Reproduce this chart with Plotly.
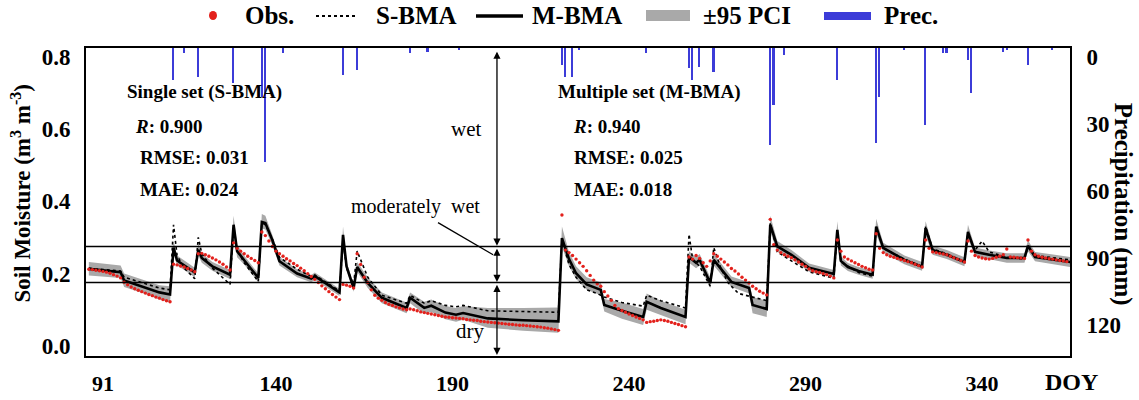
import plotly.graph_objects as go

# ---------------- data ----------------
OBS_DOY_START = 87
OBS_SM = [
    0.212, 0.211, 0.209, 0.208, 0.206, 0.204, 0.201, 0.197, 0.193, 0.188,
    0.176, 0.169, 0.163, 0.158, 0.154, 0.150, 0.146, 0.142, 0.139, 0.135, 0.132, 0.128, 0.125, 0.122,
    0.226, 0.224, 0.221, 0.218, 0.214, 0.210, 0.205,
    0.255, 0.256, 0.252, 0.248, 0.243, 0.238, 0.232, 0.226, 0.218, 0.210,
    0.285, 0.270, 0.262, 0.255, 0.248, 0.242, 0.236, 0.230,
    0.315, 0.305, 0.290, 0.275, 0.262, 0.255, 0.248, 0.241, 0.235, 0.228, 0.222, 0.215,
    0.208, 0.200, 0.192, 0.184, 0.175, 0.166, 0.158, 0.150, 0.142, 0.135, 0.128,
    0.170, 0.168, 0.165, 0.160,
    0.255, 0.225, 0.190, 0.175, 0.155, 0.140, 0.132, 0.126, 0.120, 0.115, 0.112, 0.108, 0.105, 0.102, 0.100,
    0.102, 0.100, 0.097, 0.094, 0.092, 0.090, 0.088, 0.086, 0.084, 0.082, 0.080, 0.079, 0.078, 0.077, 0.076, 0.075, 0.073,
    0.072, 0.071, 0.070, 0.068, 0.067, 0.066,
    0.065, 0.064, 0.063, 0.062, 0.061, 0.060, 0.059, 0.058, 0.057, 0.057,
    0.056, 0.055, 0.054, 0.053, 0.052, 0.050, 0.049, 0.047, 0.045, 0.043,
    0.362, 0.265, 0.258, 0.250, 0.240, 0.230, 0.220, 0.208, 0.195, 0.182, 0.172, 0.165, 0.150, 0.138, 0.126, 0.112,
    0.103, 0.098, 0.093, 0.088, 0.084, 0.080, 0.076, 0.072, 0.065, 0.067, 0.068, 0.070, 0.072, 0.070, 0.068, 0.065,
    0.062, 0.059, 0.056, 0.053,
    0.246, 0.240, 0.250, 0.242, 0.230, 0.220, 0.235, 0.255, 0.248, 0.240, 0.232, 0.224, 0.214, 0.207, 0.199, 0.190,
    0.182, 0.174, 0.165, 0.158, 0.151, 0.146, 0.141,
    0.350, 0.280, 0.265, 0.258, 0.252, 0.248, 0.244, 0.238, 0.232, 0.226, 0.220, 0.213, 0.208, 0.205, 0.203, 0.200,
    0.197, 0.193, 0.188,
    0.293, 0.262, 0.246, 0.240, 0.235, 0.230, 0.225, 0.220, 0.216, 0.212, 0.210,
    0.310, 0.270, 0.258, 0.252, 0.248, 0.245, 0.242, 0.239, 0.236, 0.233, 0.230, 0.226, 0.222, 0.218,
    0.293, 0.270, 0.260, 0.258, 0.256, 0.254, 0.252, 0.248, 0.244, 0.240, 0.236, 0.232,
    0.290, 0.262, 0.250, 0.246, 0.243, 0.241, 0.240, 0.242, 0.245, 0.248, 0.252, 0.268, 0.246, 0.245, 0.244, 0.243, 0.242,
    0.293, 0.262, 0.252, 0.248, 0.245, 0.243, 0.241, 0.240, 0.238, 0.236, 0.235, 0.233,
]
OBS_DOY = list(range(OBS_DOY_START, OBS_DOY_START + len(OBS_SM)))

M_DOY = [87, 96, 97, 102, 107, 110, 111, 112, 114, 117, 118, 119, 122, 127, 128, 129, 131, 135, 136, 137,
         139, 141, 146, 150, 151, 158, 159, 160, 162, 163, 166, 170, 177, 178, 182, 184, 188, 191, 193, 200,
         210, 220, 221, 223, 225, 228, 232, 233, 238, 244, 245, 249, 256, 257, 259, 260, 263, 264, 269, 274,
         275, 279, 280, 282, 286, 291, 298, 299, 300, 302, 305, 309, 310, 312, 318, 323, 324, 326, 330, 335,
         336, 338, 342, 347, 352, 353, 355, 365]
M_SM = [0.213, 0.204, 0.181, 0.165, 0.148, 0.142, 0.272, 0.236, 0.222, 0.203, 0.266, 0.243, 0.220, 0.197, 0.335, 0.262, 0.237, 0.188, 0.343, 0.340,
        0.292, 0.234, 0.200, 0.186, 0.193, 0.148, 0.307, 0.220, 0.160, 0.218, 0.174, 0.133, 0.105, 0.133, 0.105, 0.111, 0.092, 0.086, 0.091, 0.076,
        0.071, 0.068, 0.298, 0.240, 0.201, 0.170, 0.155, 0.113, 0.097, 0.080, 0.122, 0.105, 0.080, 0.246, 0.230, 0.238, 0.174, 0.238, 0.177, 0.160,
        0.113, 0.102, 0.335, 0.275, 0.252, 0.216, 0.199, 0.321, 0.235, 0.218, 0.207, 0.197, 0.330, 0.271, 0.238, 0.219, 0.326, 0.265, 0.252, 0.232,
        0.315, 0.260, 0.252, 0.243, 0.243, 0.277, 0.246, 0.232]
PCI_LO = [0.195, 0.188, 0.163, 0.147, 0.128, 0.120, 0.255, 0.222, 0.210, 0.190, 0.250, 0.230, 0.208, 0.185, 0.315, 0.245, 0.225, 0.176, 0.325, 0.322,
          0.278, 0.222, 0.190, 0.176, 0.183, 0.138, 0.290, 0.208, 0.150, 0.205, 0.160, 0.118, 0.090, 0.118, 0.088, 0.094, 0.074, 0.067, 0.072, 0.050,
          0.042, 0.036, 0.275, 0.220, 0.185, 0.155, 0.140, 0.095, 0.075, 0.058, 0.100, 0.085, 0.060, 0.230, 0.215, 0.222, 0.160, 0.222, 0.163, 0.145,
          0.090, 0.080, 0.315, 0.260, 0.240, 0.205, 0.190, 0.300, 0.222, 0.207, 0.197, 0.186, 0.310, 0.258, 0.226, 0.208, 0.305, 0.252, 0.240, 0.220,
          0.298, 0.248, 0.240, 0.230, 0.230, 0.262, 0.234, 0.218]
PCI_HI = [0.232, 0.222, 0.200, 0.185, 0.168, 0.165, 0.290, 0.250, 0.236, 0.216, 0.282, 0.256, 0.232, 0.210, 0.360, 0.280, 0.250, 0.200, 0.365, 0.360,
          0.306, 0.246, 0.212, 0.196, 0.203, 0.158, 0.330, 0.232, 0.172, 0.232, 0.190, 0.148, 0.120, 0.148, 0.122, 0.128, 0.110, 0.105, 0.110, 0.105,
          0.105, 0.106, 0.330, 0.260, 0.220, 0.190, 0.175, 0.130, 0.120, 0.102, 0.145, 0.125, 0.100, 0.262, 0.245, 0.254, 0.190, 0.254, 0.192, 0.176,
          0.135, 0.125, 0.360, 0.290, 0.265, 0.228, 0.210, 0.345, 0.248, 0.229, 0.218, 0.208, 0.352, 0.285, 0.250, 0.232, 0.345, 0.278, 0.265, 0.245,
          0.335, 0.272, 0.264, 0.256, 0.256, 0.292, 0.260, 0.246]

S_DOY = [87, 96, 97, 102, 107, 110, 111, 112, 114, 117, 118, 119, 122, 127, 128, 129, 131, 135, 136, 137,
         139, 141, 146, 150, 151, 158, 159, 160, 162, 163, 166, 170, 177, 178, 182, 184, 188, 191, 193, 200,
         210, 220, 221, 223, 225, 228, 231, 233, 238, 244, 245, 249, 256, 257, 258, 260, 263, 264, 266, 268,
         271, 279, 280, 282, 286, 291, 298, 299, 300, 305, 309, 310, 312, 318, 323, 324, 326, 330, 335, 336,
         338, 340, 342, 347, 352, 353, 355, 365]
S_SM = [0.215, 0.207, 0.190, 0.176, 0.160, 0.155, 0.335, 0.250, 0.215, 0.186, 0.300, 0.255, 0.215, 0.170, 0.330, 0.265, 0.230, 0.178, 0.340, 0.335,
        0.295, 0.245, 0.212, 0.192, 0.196, 0.152, 0.290, 0.215, 0.170, 0.262, 0.190, 0.140, 0.118, 0.140, 0.118, 0.125, 0.112, 0.108, 0.112, 0.097,
        0.095, 0.093, 0.295, 0.225, 0.190, 0.155, 0.145, 0.135, 0.120, 0.110, 0.140, 0.125, 0.105, 0.309, 0.240, 0.220, 0.165, 0.272, 0.215, 0.175,
        0.145, 0.125, 0.340, 0.260, 0.235, 0.205, 0.187, 0.315, 0.232, 0.203, 0.193, 0.330, 0.270, 0.240, 0.220, 0.330, 0.268, 0.255, 0.233, 0.310,
        0.265, 0.290, 0.260, 0.245, 0.240, 0.275, 0.250, 0.238]

PREC_DOY = [111, 114, 118, 128, 136, 137, 142, 159, 163, 178, 183, 192, 221, 222, 224, 226, 245, 257, 258, 260,
            264, 280, 281, 284, 299, 310, 311, 318, 324, 329, 330, 336, 337, 346, 347, 353, 360]
PREC_MM = [14.3, 2.1, 13.1, 15.8, 21.8, 50.9, 2.4, 12.1, 9.9, 2.4, 1.6, 1.0, 7.6, 12.8, 12.8, 0.9, 2.4, 9.1, 14.3, 8.4,
           10.6, 43.4, 25.5, 3.1, 14.3, 42.7, 21.8, 0.9, 34.5, 2.4, 2.4, 5.4, 20.3, 1.6, 1.0, 7.6, 1.0]

X_TICKS = [91, 140, 190, 240, 290, 340]
Y_TICKS = [0.0, 0.2, 0.4, 0.6, 0.8]
Y2_TICKS = [0, 30, 60, 90, 120]
WET_LIMIT = 0.275
DRY_LIMIT = 0.175
CLASS_X = 202.6

X_RANGE = [86.2, 364.9]
Y_RANGE = [-0.028, 0.824]
Y2_RANGE = [133.9, -4.03]

FONT = "Liberation Serif"
OBS_COLOR = "#e3211c"
PCI_COLOR = "#a9a9a9"
PREC_COLOR = "#3c3cd8"

fig = go.Figure()

fig.add_trace(go.Scatter(x=M_DOY, y=PCI_LO, mode="lines", line=dict(width=0, color=PCI_COLOR),
                         showlegend=False, hoverinfo="skip"))
fig.add_trace(go.Scatter(x=M_DOY, y=PCI_HI, mode="lines", line=dict(width=0, color=PCI_COLOR),
                         fill="tonexty", fillcolor=PCI_COLOR, name="±95 PCI", showlegend=False))
fig.add_trace(go.Scatter(x=S_DOY, y=S_SM, mode="lines", line=dict(color="black", width=1.6, dash="dot"),
                         name="S-BMA", showlegend=False))
fig.add_trace(go.Scatter(x=M_DOY, y=M_SM, mode="lines", line=dict(color="black", width=2.6),
                         name="M-BMA", showlegend=False))
fig.add_trace(go.Scatter(x=OBS_DOY, y=OBS_SM, mode="markers", marker=dict(color=OBS_COLOR, size=3.4),
                         name="Obs.", showlegend=False))
fig.add_trace(go.Bar(x=PREC_DOY, y=PREC_MM, base=Y2_RANGE[1], width=0.45, yaxis="y2",
                     marker=dict(color=PREC_COLOR, line=dict(width=0)), name="Prec.", showlegend=False))

# ---- layout helpers (pixel -> paper for legend placement) ----
L, R, T, B, W, H = 86, 69, 48, 44, 1139, 400
PW, PH = W - L - R, H - T - B
def px(xp):
    return (xp - L) / PW
def py(yp):
    return (H - B - yp) / PH

shapes = [
    dict(type="line", xref="paper", yref="y", x0=0, x1=1, y0=WET_LIMIT, y1=WET_LIMIT,
         line=dict(color="black", width=1.5), layer="above"),
    dict(type="line", xref="paper", yref="y", x0=0, x1=1, y0=DRY_LIMIT, y1=DRY_LIMIT,
         line=dict(color="black", width=1.5), layer="above"),
    dict(type="line", xref="x", yref="y", x0=185.9, y0=0.341, x1=201.5, y1=0.252,
         line=dict(color="black", width=1.3)),
    # legend keys
    dict(type="circle", xref="paper", yref="paper", x0=px(209), x1=px(217), y0=py(20), y1=py(11),
         fillcolor=OBS_COLOR, line=dict(width=0)),
    dict(type="line", xref="paper", yref="paper", x0=px(316), x1=px(356), y0=py(16), y1=py(16),
         line=dict(color="black", width=2, dash="dot")),
    dict(type="line", xref="paper", yref="paper", x0=px(476), x1=px(523), y0=py(16), y1=py(16),
         line=dict(color="black", width=3.5)),
    dict(type="rect", xref="paper", yref="paper", x0=px(646), x1=px(690), y0=py(21), y1=py(10),
         fillcolor=PCI_COLOR, line=dict(width=0)),
    dict(type="rect", xref="paper", yref="paper", x0=px(824), x1=px(871), y0=py(20), y1=py(12),
         fillcolor=PREC_COLOR, line=dict(width=0)),
]

ann = []
def arrow(y_from, y_to):
    ann.append(dict(x=CLASS_X, y=y_to, ax=CLASS_X, ay=y_from, xref="x", yref="y", axref="x", ayref="y",
                    text="", showarrow=True, arrowside="end+start", arrowhead=2, arrowsize=1.1,
                    arrowwidth=1.3, arrowcolor="black", standoff=0, startstandoff=0))
arrow(Y_RANGE[1] - 0.006, WET_LIMIT + 0.002)
arrow(WET_LIMIT - 0.002, DRY_LIMIT + 0.002)
arrow(DRY_LIMIT - 0.002, Y_RANGE[0] + 0.003)

def txt(x, y, s, size=19, anchor="left", **kw):
    d = dict(x=x, y=y, xref="x", yref="y", text=s, showarrow=False, xanchor=anchor, yanchor="middle",
             font=dict(family=FONT, size=size, color="black"))
    d.update(kw)
    ann.append(d)

txt(97.2, 0.703, "<b>Single set (S-BMA)</b>")
txt(99.5, 0.606, "<b><i>R</i>: 0.900</b>")
txt(100.9, 0.522, "<b>RMSE: 0.031</b>")
txt(100.9, 0.432, "<b>MAE: 0.024</b>")
txt(219.3, 0.703, "<b>Multiple set (M-BMA)</b>")
txt(223.6, 0.606, "<b><i>R</i>: 0.940</b>")
txt(223.9, 0.520, "<b>RMSE: 0.025</b>")
txt(223.9, 0.432, "<b>MAE: 0.018</b>")
txt(193.8, 0.600, "wet", size=21, anchor="center")
txt(179.4, 0.385, "moderately  wet", size=20, anchor="center")
txt(195.0, 0.040, "dry", size=21, anchor="center")

for label, left in [("Obs.", 243), ("S-BMA", 374), ("M-BMA", 530), ("±95 PCI", 701), ("Prec.", 882)]:
    ann.append(dict(x=px(left), y=py(16), xref="paper", yref="paper", showarrow=False,
                    xanchor="left", yanchor="middle", text=f"<b>{label}</b>",
                    font=dict(family=FONT, size=25, color="black")))

ann.append(dict(x=-0.066, y=0.528, xref="paper", yref="paper", showarrow=False, textangle=-90,
                xanchor="center", yanchor="middle",
                text="<b>Soil Moisture (m<sup>3</sup> m<sup>-3</sup>)</b>",
                font=dict(family=FONT, size=23, color="black")))
ann.append(dict(x=1.054, y=0.494, xref="paper", yref="paper", showarrow=False, textangle=90,
                xanchor="center", yanchor="middle",
                text="<b>Precipitation (mm)</b>", font=dict(family=FONT, size=25, color="black")))
ann.append(dict(x=1.002, y=-0.085, xref="paper", yref="paper", showarrow=False,
                xanchor="center", yanchor="middle",
                text="<b>DOY</b>", font=dict(family=FONT, size=24, color="black")))

tickfont = dict(family=FONT, size=23, color="black")
fig.update_layout(
    width=W, height=H,
    margin=dict(l=L, r=R, t=T, b=B, autoexpand=False),
    paper_bgcolor="white", plot_bgcolor="white",
    showlegend=False,
    bargap=0,
    xaxis=dict(range=X_RANGE, tickvals=X_TICKS, ticktext=[f"<b>{v}</b>" for v in X_TICKS],
               showgrid=False, zeroline=False, showline=True, linecolor="black", linewidth=2,
               mirror=True, ticks="", tickfont=dict(family=FONT, size=22, color="black"),
               ticklabelstandoff=7, automargin=False),
    yaxis=dict(range=Y_RANGE, tickvals=Y_TICKS, ticktext=[f"<b>{v:.1f}</b>" for v in Y_TICKS],
               showgrid=False, zeroline=False, showline=True, linecolor="black", linewidth=2,
               mirror=True, ticks="", tickfont=tickfont, ticklabelstandoff=9, automargin=False),
    yaxis2=dict(range=Y2_RANGE, overlaying="y", side="right", tickvals=Y2_TICKS,
                ticktext=[f"<b>{v}</b>" for v in Y2_TICKS], showgrid=False, zeroline=False,
                showline=True, linecolor="black", linewidth=2, ticks="", tickfont=tickfont,
                ticklabelstandoff=10, automargin=False),
    shapes=shapes,
    annotations=ann,
)

fig.write_html("out.html")
